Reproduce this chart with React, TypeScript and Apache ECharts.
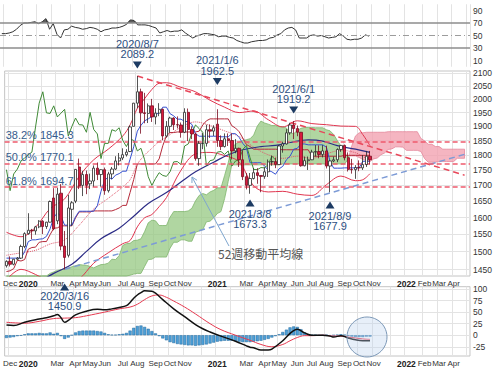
import React, { useEffect, useRef } from 'react';
import * as echarts from 'echarts';

// ---------- weekly candles (index 0 = week of 2019-11-25) ----------
const WEEK_COUNT = 128;
const open = [
  1461, 1473, 1465, 1479, 1482, 1515, 1552, 1562, 1560, 1572,
  1589, 1573, 1586, 1660, 1590, 1675, 1516, 1490, 1625, 1650,
  1760, 1700, 1735, 1705, 1714, 1756, 1735, 1751, 1683, 1737,
  1753, 1780, 1790, 1801, 1812, 1900, 1985, 2028, 1949, 1947,
  1975, 1934, 1948, 1962, 1866, 1900, 1930, 1906, 1905, 1879,
  1951, 1889, 1873, 1788, 1840, 1840, 1888, 1883, 1908, 1850,
  1829, 1856, 1850, 1814, 1823, 1784, 1728, 1700, 1722, 1741,
  1732, 1729, 1744, 1777, 1778, 1768, 1831, 1838, 1877, 1905,
  1892, 1879, 1764, 1781, 1784, 1810, 1812, 1802, 1814, 1763,
  1780, 1784, 1819, 1833, 1791, 1752, 1751, 1758, 1757, 1768,
  1796,
];
const high = [
  1476, 1487, 1480, 1485, 1520, 1556, 1613, 1566, 1575, 1592,
  1592, 1587, 1652, 1691, 1692, 1704, 1560, 1670, 1650, 1753,
  1788, 1747, 1748, 1738, 1765, 1775, 1750, 1758, 1744, 1760,
  1796, 1807, 1823, 1820, 1903, 1986, 2089.2, 2040, 2024, 1984,
  2001, 1966, 1985, 1965, 1919, 1935, 1933, 1936, 1914, 1966,
  1965, 1900, 1876, 1848, 1876, 1906, 1907, 1904, 1962.5, 1868,
  1875, 1875, 1875, 1855, 1825, 1815, 1740, 1740, 1756, 1756,
  1733, 1759, 1785, 1798, 1790, 1834, 1846, 1890, 1913, 1919.2,
  1903, 1880, 1795, 1795, 1818, 1834, 1833, 1834, 1832, 1782,
  1795, 1823, 1834, 1836, 1809, 1787, 1766, 1782, 1800, 1814,
  1814,
];
const low = [
  1456, 1459, 1462, 1476, 1480, 1510, 1549, 1536, 1549, 1568,
  1551, 1566, 1585, 1562, 1580, 1504, 1450.9, 1484, 1575, 1644,
  1688, 1666, 1672, 1688, 1696, 1717, 1696, 1670, 1677, 1720,
  1750, 1765, 1783, 1795, 1810, 1900, 1966, 1874, 1911, 1912,
  1916, 1907, 1937, 1851, 1860, 1877, 1887, 1893, 1860, 1876,
  1848, 1855, 1781, 1764, 1820, 1829, 1859, 1866, 1828, 1817,
  1826, 1831, 1785, 1806, 1760, 1717, 1687, 1673.3, 1719, 1705,
  1678, 1721, 1727, 1764, 1756, 1768, 1808, 1836, 1870, 1855,
  1865, 1761, 1762, 1750, 1783, 1795, 1789, 1792, 1755, 1677.9,
  1776, 1776, 1811, 1782, 1745, 1738, 1721, 1746, 1750, 1760,
  1768,
];
const close = [
  1473, 1465, 1479, 1482, 1515, 1552, 1562, 1560, 1572, 1589,
  1573, 1586, 1649, 1566, 1672, 1516, 1484, 1629, 1645, 1752,
  1698, 1735, 1700, 1714, 1756, 1735, 1751, 1683, 1737, 1753,
  1780, 1790, 1801, 1810, 1898, 1985, 2028, 1949, 1947, 1975,
  1934, 1948, 1962, 1866, 1900, 1930, 1906, 1905, 1879, 1951,
  1889, 1873, 1788, 1840, 1840, 1888, 1883, 1895, 1850, 1829,
  1856, 1850, 1814, 1823, 1784, 1728, 1700, 1722, 1741, 1732,
  1729, 1744, 1777, 1778, 1768, 1831, 1838, 1877, 1905, 1892,
  1879, 1764, 1781, 1784, 1810, 1812, 1802, 1814, 1763, 1780,
  1784, 1819, 1833, 1791, 1752, 1751, 1758, 1757, 1768, 1796,
  1784,
];

// ---------- Ichimoku ----------
const tenkan = [
  1482, 1482, 1482, 1482, 1482, 1500, 1529, 1534, 1534, 1536,
  1537, 1544, 1566, 1600, 1614, 1604, 1577, 1577, 1577, 1602,
  1619, 1619, 1619, 1619, 1619, 1636, 1681, 1716, 1727, 1720,
  1733, 1738, 1746, 1746, 1786, 1828, 1883, 1904, 1920, 1927,
  1936, 1942, 1950, 1970, 1970, 1946, 1938, 1926, 1926, 1918,
  1917, 1907, 1874, 1865, 1865, 1865, 1865, 1865, 1865, 1863,
  1863, 1863, 1874, 1874, 1861, 1840, 1825, 1774, 1774, 1774,
  1774, 1764, 1749, 1744, 1736, 1754, 1762, 1784, 1796, 1820,
  1823, 1838, 1838, 1835, 1835, 1835, 1835, 1835, 1827, 1779,
  1756, 1756, 1756, 1757, 1757, 1757, 1757, 1757, 1779, 1779,
  1779,
];
const kijun = [
  1445, 1447, 1453, 1476, 1474, 1478, 1507, 1512, 1513, 1527,
  1529, 1529, 1549, 1568, 1569, 1575, 1575, 1575, 1575, 1599,
  1617, 1617, 1617, 1617, 1620, 1620, 1620, 1620, 1620, 1620,
  1624, 1629, 1637, 1637, 1677, 1719, 1770, 1770, 1770, 1770,
  1770, 1770, 1787, 1832, 1867, 1878, 1878, 1880, 1880, 1880,
  1880, 1880, 1880, 1883, 1905, 1920, 1927, 1927, 1927, 1927,
  1927, 1927, 1902, 1894, 1881, 1859, 1836, 1829, 1820, 1820,
  1820, 1820, 1820, 1820, 1820, 1819, 1818, 1818, 1818, 1818,
  1818, 1818, 1818, 1818, 1796, 1796, 1796, 1796, 1796, 1796,
  1796, 1796, 1796, 1799, 1799, 1799, 1799, 1799, 1799, 1799,
  1799,
];
const spanA = [
  1290, 1300, 1310, 1320, 1330, 1345, 1360, 1375, 1390, 1405,
  1420, 1432, 1440, 1444, 1448, 1450, 1452, 1455, 1458, 1461,
  1464, 1463, 1462, 1459, 1455, 1460, 1464, 1465, 1468, 1479,
  1478, 1489, 1518, 1523, 1524, 1532, 1533, 1537, 1558, 1584,
  1592, 1590, 1576, 1576, 1576, 1601, 1618, 1618, 1618, 1618,
  1620, 1628, 1651, 1668, 1674, 1670, 1679, 1684, 1692, 1692,
  1732, 1774, 1827, 1837, 1845, 1849, 1853, 1856, 1869, 1901,
  1919, 1912, 1908, 1903, 1903, 1899, 1899, 1894, 1877, 1874,
  1885, 1893, 1896, 1896, 1896, 1895, 1895, 1895, 1888, 1884,
  1871, 1850, 1831, 1802, 1797, 1797, 1797, 1792, 1785, 1782,
  1778, 1787, 1790, 1801, 1807, 1819, 1821, 1828, 1828, 1827,
  1816, 1816, 1816, 1816, 1812, 1788, 1776, 1776, 1776, 1778,
  1778, 1778, 1778, 1778, 1789, 1789, 1789,
];
const spanB = [
  1262, 1265, 1268, 1272, 1276, 1280, 1285, 1290, 1295, 1300,
  1305, 1310, 1318, 1325, 1335, 1345, 1355, 1360, 1365, 1375,
  1385, 1390, 1395, 1398, 1400, 1402, 1403, 1405, 1408, 1410,
  1410, 1415, 1425, 1430, 1435, 1438, 1440, 1440, 1459, 1478,
  1479, 1485, 1485, 1485, 1485, 1510, 1527, 1527, 1534, 1534,
  1530, 1530, 1556, 1560, 1564, 1587, 1589, 1599, 1612, 1618,
  1658, 1713, 1767, 1767, 1767, 1767, 1767, 1767, 1767, 1767,
  1767, 1767, 1767, 1767, 1767, 1767, 1770, 1770, 1770, 1770,
  1770, 1770, 1770, 1770, 1770, 1770, 1770, 1770, 1770, 1770,
  1770, 1770, 1770, 1770, 1786, 1832, 1866, 1877, 1877, 1879,
  1879, 1879, 1879, 1879, 1879, 1881, 1881, 1881, 1881, 1881,
  1881, 1881, 1881, 1881, 1857, 1849, 1837, 1837, 1829, 1829,
  1820, 1820, 1820, 1820, 1820, 1820, 1820,
];

// ---------- Bollinger bands (sampled weeks) ----------
const bbWeeks = [0, 4, 8, 12, 16, 20, 24, 28, 32, 34, 36, 38, 40, 42, 44, 48, 52, 56, 60, 64, 68, 72, 76, 80, 84, 88, 92, 96, 98, 100];
const bbUpper = [1556, 1543, 1571, 1627, 1657, 1729, 1784, 1820, 1866, 1905, 1966, 2002, 2037, 2061, 2063, 2045, 2028, 1996, 1970, 1950, 1956, 1924, 1898, 1920, 1910, 1906, 1901, 1900, 1871, 1832];
const bbMiddle = [1490, 1497, 1504, 1522, 1534, 1577, 1626, 1659, 1695, 1718, 1769, 1800, 1823, 1847, 1862, 1897, 1916, 1903, 1884, 1864, 1827, 1801, 1789, 1796, 1789, 1804, 1816, 1808, 1795, 1785];
const bbLower = [1423, 1451, 1437, 1417, 1411, 1425, 1468, 1497, 1523, 1532, 1572, 1599, 1609, 1633, 1661, 1749, 1804, 1809, 1798, 1777, 1698, 1679, 1681, 1672, 1668, 1702, 1730, 1715, 1718, 1738];

// ---------- 52-week moving average (sampled weeks) ----------
const ma52Weeks = [0, 5, 9, 13, 18, 22, 26, 31, 35, 39, 44, 48, 52, 57, 61, 65, 70, 74, 78, 83, 87, 91, 96, 100];
const ma52 = [1376, 1395, 1417, 1440, 1465, 1501, 1537, 1568, 1604, 1643, 1677, 1711, 1744, 1776, 1801, 1818, 1829, 1833, 1843, 1852, 1848, 1832, 1820, 1809];

// ---------- RSI ----------
const rsi = [
  53, 53, 54, 56, 60, 66, 70, 70, 71, 72,
  69, 72, 77, 60, 69, 52, 46, 59, 60, 65,
  63, 62, 60, 61, 63, 62, 60, 56, 59, 60,
  62, 62, 63, 65, 68, 75, 74, 67, 67, 67,
  66, 64, 62, 54, 56, 58, 56, 57, 57, 59,
  54, 50, 46, 49, 51, 53, 53, 52, 51, 48,
  49, 49, 47, 46, 42, 40, 38, 38, 40, 41,
  42, 42, 43, 46, 47, 51, 53, 59, 62, 63,
  59, 46, 46, 46, 50, 51, 49, 50, 48, 46,
  47, 48, 53, 49, 44, 43, 44, 44, 46, 51,
  49,
];

// ---------- MACD ----------
const macdWeeks = [0, 2, 5, 9, 11, 13, 14, 15, 16, 17, 19, 22, 25, 27, 29, 31, 33, 34, 35, 36, 37, 38, 40, 41, 43, 46, 49, 52, 54, 56, 59, 63, 66, 67, 68, 70, 72, 73, 76, 78, 79, 80, 82, 84, 87, 89, 90, 92, 94, 96, 98, 100];
const macd = [22, 21, 28, 35, 38, 42, 45, 38, 28, 32, 44, 52, 56, 55, 57, 60, 64, 71, 80, 87, 92, 96, 95, 91, 77, 57, 40, 23, 14, 7, -2, -13, -23, -26, -27, -32, -32, -30, -12, 4, 10, 13, 5, 0, 0, -2, -4, -1, -6, -10, -12, -12];
const signalWeeks = [0, 5, 9, 13, 16, 19, 22, 27, 31, 34, 36, 38, 40, 42, 44, 46, 49, 52, 56, 59, 63, 67, 70, 73, 76, 78, 80, 82, 84, 87, 90, 92, 94, 96, 98, 100];
const signal = [28, 26, 30, 36, 37, 38, 42, 50, 57, 61, 67, 77, 85, 87, 82, 74, 61, 46, 25, 12, 0, -11, -20, -25, -20, -12, -5, -1, -1, 0, -2, -2, -4, -6, -8, -9];
const histogram = [
  -6, -5, -4, -2, -1, 2, 4, 4, 4, 5,
  4, 4, 6, 3, 5, -2, -8, -5, 0, 6,
  9, 10, 10, 10, 10, 9, 8, 5, 2, 1,
  1, 2, 3, 5, 10, 16, 20, 21, 18, 14,
  9, 4, -2, -7, -11, -15, -17, -19, -20, -21,
  -22, -22, -23, -22, -21, -20, -18, -16, -14, -13,
  -12, -12, -12, -13, -14, -15, -15, -15, -14, -13,
  -12, -10, -8, -5, -2, 2, 7, 12, 17, 19,
  18, 13, 6, 2, 1, 1, 0, 0, 1, -1,
  0, 1, 2, 1, -1, -3, -4, -4, -4, -3,
  -3,
];

// ---------- ticks / labels ----------
const priceTicks = [1450, 1500, 1550, 1600, 1650, 1700, 1750, 1800, 1850, 1900, 1950, 2000, 2050, 2100];
const rsiTicks = [10, 30, 50, 70, 90];
const macdTicks = [-25, 0, 25, 50, 75, 100];
const monthTickWeeks = ['2019-12-02', '2020-01-06', '2020-03-02', '2020-04-06', '2020-05-04', '2020-06-01', '2020-07-06', '2020-08-03', '2020-09-07', '2020-10-05', '2020-11-02', '2021-01-04', '2021-03-01', '2021-04-05', '2021-05-03', '2021-06-07', '2021-07-05', '2021-08-02', '2021-09-06', '2021-10-04', '2021-11-01', '2022-01-03', '2022-02-07', '2022-03-07', '2022-04-04'];
const monthTickLabels = ['Dec', '2020', 'Mar', 'Apr', 'May', 'Jun', 'Jul', 'Aug', 'Sep', 'Oct', 'Nov', '2021', 'Mar', 'Apr', 'May', 'Jun', 'Jul', 'Aug', 'Sep', 'Oct', 'Nov', '2022', 'Feb', 'Mar', 'Apr'];

// ---------- annotations ----------
const fibNames = ['38.2%', '50.0%', '61.8%'];
const fibPrices = [1845.3, 1770.1, 1694.7];
const pivotWeeks = [36, 58, 79, 16, 67, 89];
const pivotDates = ['2020/8/7', '2021/1/6', '2021/6/1', '2020/3/16', '2021/3/8', '2021/8/9'];
const pivotPrices = [2089.2, 1962.5, 1919.2, 1450.9, 1673.3, 1677.9];
const pivotIsHigh = [true, true, true, false, false, false];
const resistanceLine = [[36, 2089.2], [126, 1733]];
const supportLine = [[16, 1450.9], [127, 1806]];
const maNote = '52週移動平均線';

const PRICE_MIN = 1432.9;
const PRICE_MAX = 2109.1;

function buildWeeks(): string[] {
  const out: string[] = [];
  const t0 = Date.UTC(2019, 10, 25);
  for (let k = 0; k < WEEK_COUNT; k++) {
    out.push(new Date(t0 + k * 7 * 86400000).toISOString().slice(0, 10));
  }
  return out;
}

export default function App() {
  const ref = useRef<HTMLDivElement>(null);

  useEffect(() => {
    document.body.style.margin = '0';
    const chart = echarts.init(ref.current as HTMLDivElement, undefined, { renderer: 'svg' });
    const weeks = buildWeeks();
    const labelMap: Record<string, string> = {};
    monthTickWeeks.forEach((w, k) => (labelMap[w] = monthTickLabels[k]));
    const firstWeek = weeks.map((w) => Number(w.slice(8, 10)) <= 7);

    const font = 'Liberation Sans';
    const mkX = (gridIndex: number, showLabel: boolean) => ({
      type: 'category',
      gridIndex,
      data: weeks,
      boundaryGap: true,
      axisLine: { show: false },
      axisTick: { show: false },
      splitLine: {
        show: true,
        interval: (i: number) => firstWeek[i],
        lineStyle: { color: '#e3e3e3', width: 1 },
      },
      axisLabel: {
        show: showLabel,
        interval: (_i: number, v: string) => labelMap[v] !== undefined,
        formatter: (v: string) => {
          const t = labelMap[v] || '';
          return /^\d{4}$/.test(t) ? '{y|' + t + '}' : t;
        },
        fontSize: 8,
        color: '#333',
        margin: 3,
        fontFamily: font,
        rich: { y: { fontWeight: 'bold', fontSize: 8.5, color: '#222', fontFamily: font } },
      },
    });
    const yLabel = (ticks: number[]) => ({
      customValues: ticks,
      formatter: (v: number) => String(Math.round(v)),
      fontSize: 8.5,
      color: '#333',
      margin: 3,
      fontFamily: font,
    });

    const pairs = (xs: number[], ys: number[]) => xs.map((x, k) => [x, ys[k]]);
    const candles = open.map((o, i) => [o, close[i], low[i], high[i]]);
    const lagging = close.slice(26);

    const pivotOffsets = [-11, -27.7, -11, 17.6, 9.3, 12.7];
    const markPoints = pivotWeeks.map((w, k) => ({
      coord: [w, pivotPrices[k]],
      symbol: 'triangle',
      symbolSize: [9, 7],
      symbolRotate: pivotIsHigh[k] ? 180 : 0,
      symbolOffset: [0, pivotOffsets[k]],
      itemStyle: { color: '#1d3b63' },
      label: {
        show: true,
        position: pivotIsHigh[k] ? 'top' : 'bottom',
        distance: k === 3 ? 0 : 2,
        formatter: pivotDates[k] + '\n' + pivotPrices[k].toFixed(1),
        color: '#2d4f7f',
        fontSize: 11,
        lineHeight: 10.5,
        fontFamily: font,
      },
    }));

    const cloudItem = (_params: any, api: any) => {
      if (_params.dataIndex !== 0) return null;
      const pa = spanA.map((v, i) => api.coord([i, Math.max(v, PRICE_MIN)]));
      const pb = spanB.map((v, i) => api.coord([i, Math.max(v, PRICE_MIN)]));
      const runs: { green: boolean; top: number[][]; bot: number[][] }[] = [];
      let cur = { green: spanA[0] >= spanB[0], top: [pa[0]], bot: [pb[0]] };
      for (let i = 0; i < spanA.length - 1; i++) {
        const g = spanA[i + 1] >= spanB[i + 1];
        if (g === cur.green) {
          cur.top.push(pa[i + 1]);
          cur.bot.push(pb[i + 1]);
        } else {
          const d0 = pa[i][1] - pb[i][1];
          const d1 = pa[i + 1][1] - pb[i + 1][1];
          const t = d0 / (d0 - d1);
          const c = [pa[i][0] + (pa[i + 1][0] - pa[i][0]) * t, pa[i][1] + (pa[i + 1][1] - pa[i][1]) * t];
          cur.top.push(c);
          cur.bot.push(c);
          runs.push(cur);
          cur = { green: g, top: [c, pa[i + 1]], bot: [c, pb[i + 1]] };
        }
      }
      runs.push(cur);
      return {
        type: 'group',
        children: runs.map((r) => ({
          type: 'polygon',
          shape: { points: r.top.concat(r.bot.slice().reverse()) },
          style: {
            fill: r.green ? 'rgba(150,200,130,0.75)' : 'rgba(242,160,175,0.78)',
            stroke: r.green ? '#7fb56c' : '#e5879a',
            lineWidth: 0.8,
          },
        })),
      };
    };

    // arrow geometry for the 52-week MA note
    const tip = [192, 177];
    const tail = [229, 246];
    const len = Math.hypot(tail[0] - tip[0], tail[1] - tip[1]);
    const ux = (tail[0] - tip[0]) / len;
    const uy = (tail[1] - tip[1]) / len;
    const rot = (a: number) => [tip[0] + 6 * (ux * Math.cos(a) - uy * Math.sin(a)), tip[1] + 6 * (ux * Math.sin(a) + uy * Math.cos(a))];

    const option: any = {
      animation: false,
      textStyle: { fontFamily: font },
      grid: [
        { left: 0, right: 30, top: 4.25, height: 62.5 },
        { left: 0, right: 30, top: 71, height: 205, show: true, borderColor: '#c4c4c4', borderWidth: 1 },
        { left: 0, right: 30, top: 286.7, height: 70.8, show: true, borderColor: '#c4c4c4', borderWidth: 1 },
      ],
      xAxis: [mkX(0, false), mkX(1, true), mkX(2, true)],
      yAxis: [
        {
          type: 'value', gridIndex: 0, position: 'right', min: 0, max: 100,
          axisLine: { show: false }, axisTick: { show: false, customValues: rsiTicks },
          splitLine: { show: false }, axisLabel: yLabel(rsiTicks),
        },
        {
          type: 'log', logBase: 10, gridIndex: 1, position: 'right', min: PRICE_MIN, max: PRICE_MAX,
          axisLine: { show: false }, axisTick: { show: false, customValues: priceTicks },
          splitLine: { show: true, lineStyle: { color: '#e3e3e3' } }, axisLabel: yLabel(priceTicks),
        },
        {
          type: 'value', gridIndex: 2, position: 'right', min: -45, max: 105,
          axisLine: { show: false }, axisTick: { show: false, customValues: macdTicks },
          splitLine: { show: true, lineStyle: { color: '#e3e3e3' } }, axisLabel: yLabel(macdTicks),
        },
      ],
      graphic: [
        {
          type: 'circle', shape: { cx: 367, cy: 337, r: 20 }, z: 10, silent: true,
          style: { fill: 'rgba(185,210,238,0.35)', stroke: '#7d99b8', lineWidth: 1 },
        },
        {
          type: 'text', x: 218, y: 247, z: 10, silent: true,
          style: { text: maNote, fontSize: 12, fill: '#555', fontFamily: 'Noto Sans CJK JP' },
        },
        {
          type: 'line', z: 10, silent: true,
          shape: { x1: tail[0], y1: tail[1], x2: tip[0], y2: tip[1] },
          style: { stroke: '#7ea6cf', lineWidth: 1 },
        },
        {
          type: 'polyline', z: 10, silent: true,
          shape: { points: [rot(0.5), tip, rot(-0.5)] },
          style: { stroke: '#7ea6cf', lineWidth: 1, fill: 'none' },
        },
      ],
      series: [
        // ---- RSI ----
        {
          type: 'line', xAxisIndex: 0, yAxisIndex: 0, silent: true, symbol: 'none', z: 2,
          data: rsi.map((v) => Math.max(v, 70)),
          lineStyle: { width: 0 },
          areaStyle: { origin: 70, color: '#5e5e5e', opacity: 1 },
        },
        {
          type: 'line', xAxisIndex: 0, yAxisIndex: 0, silent: true, symbol: 'none', z: 3,
          data: rsi,
          lineStyle: { color: '#333', width: 1 },
          markLine: {
            silent: true, symbol: ['none', 'none'], label: { show: false },
            data: [
              { yAxis: 70, lineStyle: { color: '#8c8c8c', width: 1.5, type: 'solid' } },
              { yAxis: 30, lineStyle: { color: '#8c8c8c', width: 1.5, type: 'solid' } },
              { yAxis: 50, lineStyle: { color: '#9c9c9c', width: 1, type: [6, 3, 1, 3] } },
            ],
          },
        },
        // ---- Ichimoku cloud ----
        {
          type: 'custom', xAxisIndex: 1, yAxisIndex: 1, silent: true, z: 1,
          data: [[0, 1800]],
          renderItem: cloudItem,
        },
        // ---- Bollinger ----
        {
          type: 'line', xAxisIndex: 1, yAxisIndex: 1, silent: true, symbol: 'none', smooth: 0.35, z: 2,
          data: pairs(bbWeeks, bbUpper), lineStyle: { color: '#e0354f', width: 1 },
        },
        {
          type: 'line', xAxisIndex: 1, yAxisIndex: 1, silent: true, symbol: 'none', smooth: 0.35, z: 2,
          data: pairs(bbWeeks, bbLower), lineStyle: { color: '#e0354f', width: 1 },
        },
        {
          type: 'line', xAxisIndex: 1, yAxisIndex: 1, silent: true, symbol: 'none', smooth: 0.35, z: 2,
          data: pairs(bbWeeks, bbMiddle), lineStyle: { color: '#e0566a', width: 1, type: 'dotted' },
        },
        // ---- kijun / tenkan / MA / lagging ----
        {
          type: 'line', xAxisIndex: 1, yAxisIndex: 1, silent: true, symbol: 'none', z: 3,
          data: kijun, lineStyle: { color: '#b52a3a', width: 1 },
        },
        {
          type: 'line', xAxisIndex: 1, yAxisIndex: 1, silent: true, symbol: 'none', z: 3,
          data: ma52Weeks.map((w, k) => [w, ma52[k]]), smooth: 0.4,
          lineStyle: { color: '#2c2c86', width: 1.2 },
        },
        {
          type: 'line', xAxisIndex: 1, yAxisIndex: 1, silent: true, symbol: 'none', z: 3,
          data: tenkan, lineStyle: { color: '#3551d2', width: 1 },
        },
        {
          type: 'line', xAxisIndex: 1, yAxisIndex: 1, silent: true, symbol: 'none', z: 3,
          data: lagging, lineStyle: { color: '#3f8a36', width: 1 },
        },
        // ---- trend lines + Fibonacci levels ----
        {
          type: 'line', xAxisIndex: 1, yAxisIndex: 1, silent: true, symbol: 'none', z: 4,
          data: resistanceLine, lineStyle: { color: '#e8475a', width: 1.5, type: [6, 4] },
        },
        {
          type: 'line', xAxisIndex: 1, yAxisIndex: 1, silent: true, symbol: 'none', z: 4,
          data: supportLine, lineStyle: { color: '#7d9bd6', width: 1.5, type: [6, 4] },
          markLine: {
            silent: true, symbol: ['none', 'none'],
            lineStyle: { color: '#ee5a6c', width: 1.5, type: [5, 3] },
            label: {
              show: true, position: 'insideStartTop', formatter: '{b}', distance: 1,
              color: '#355b8c', fontSize: 11, fontFamily: font,
            },
            data: fibPrices.map((p, k) => ({ yAxis: p, name: fibNames[k] + ' ' + p.toFixed(1) })),
          },
        },
        // ---- candles ----
        {
          type: 'candlestick', xAxisIndex: 1, yAxisIndex: 1, z: 5, silent: true,
          data: candles, barWidth: 2.8,
          itemStyle: { color: '#ffffff', color0: '#d81a3e', borderColor: '#2a2a2a', borderColor0: '#7a0b20', borderWidth: 0.8 },
          markPoint: { silent: true, data: markPoints },
        },
        // ---- MACD ----
        {
          type: 'bar', xAxisIndex: 2, yAxisIndex: 2, silent: true, z: 2,
          data: histogram, barWidth: '85%',
          itemStyle: { color: '#4c9fd7', borderColor: '#276b9f', borderWidth: 0.5 },
        },
        {
          type: 'line', xAxisIndex: 2, yAxisIndex: 2, silent: true, symbol: 'none', smooth: 0.4, z: 3,
          data: pairs(signalWeeks, signal), lineStyle: { color: '#e6394f', width: 1 },
        },
        {
          type: 'line', xAxisIndex: 2, yAxisIndex: 2, silent: true, symbol: 'none', smooth: 0.4, z: 4,
          data: pairs(macdWeeks, macd), lineStyle: { color: '#111', width: 1.5 },
        },
      ],
    };

    chart.setOption(option);
    return () => chart.dispose();
  }, []);

  return <div ref={ref} style={{ width: 500, height: 368 }} />;
}
